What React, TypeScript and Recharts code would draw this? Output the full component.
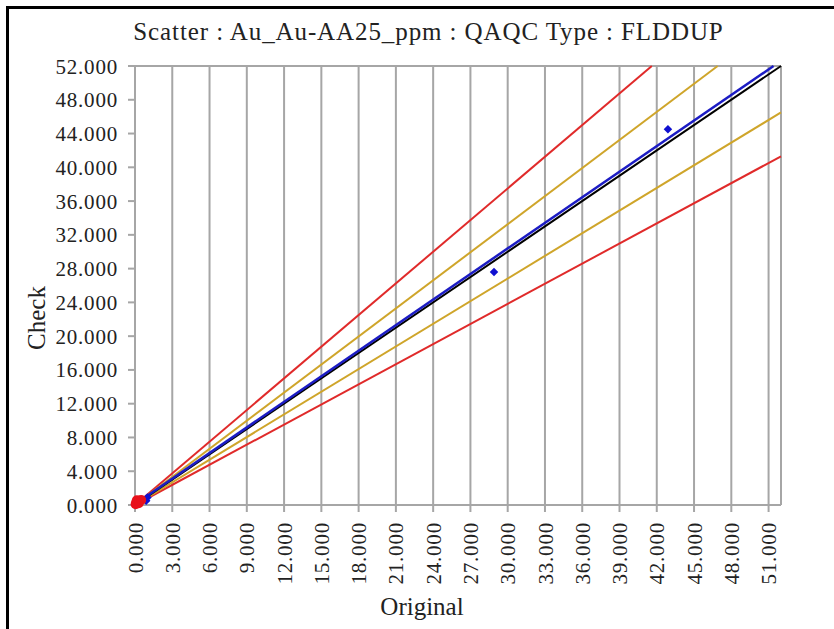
import React from 'react';
import {
  ScatterChart, Scatter, XAxis, YAxis, CartesianGrid, ReferenceLine,
} from 'recharts';

const X_TICKS = [0, 3, 6, 9, 12, 15, 18, 21, 24, 27, 30, 33, 36, 39, 42, 45, 48, 51];
const Y_TICKS = [0, 4, 8, 12, 16, 20, 24, 28, 32, 36, 40, 44, 48, 52];

// QAQC pairs (original vs check)
const originPoints = [
  { x: 0.05, y: 0.1 }, { x: 0.1, y: 0.25 }, { x: 0.2, y: 0.4 },
  { x: 0.3, y: 0.2 }, { x: 0.15, y: 0.55 }, { x: 0.35, y: 0.5 }, { x: 0.5, y: 0.6 },
];
const samplePoints = [
  { x: 0.9, y: 0.5 }, { x: 1.0, y: 0.9 }, { x: 28.9, y: 27.6 }, { x: 42.9, y: 44.5 },
];

// reference lines
const identityLine = [{ x: 0, y: 0 }, { x: 52, y: 52 }];
const regressionLine = [{ x: 0, y: 0.1 }, { x: 51.4, y: 52 }];
const upper10 = [{ x: 0, y: 0 }, { x: 46.9, y: 52 }];
const lower10 = [{ x: 0, y: 0 }, { x: 52, y: 46.5 }];
const upper20 = [{ x: 0, y: 0 }, { x: 41.6, y: 52 }];
const lower20 = [{ x: 0, y: 0 }, { x: 52, y: 41.3 }];

const FONT = "'Times New Roman', Times, 'Liberation Serif', 'DejaVu Serif', serif";
const GRID = '#a6a6a6';
const TXT = '#222';

const noShape = () => <g />;

const dot = (r: number, fill: string) => (p: any) => <circle cx={p.cx} cy={p.cy} r={r} fill={fill} />;
const square = (s: number, fill: string) => (p: any) => (
  <rect x={p.cx - s / 2} y={p.cy - s / 2} width={s} height={s} fill={fill}
    transform={`rotate(45 ${p.cx} ${p.cy})`} />
);

function XTick({ x, y, payload }: any) {
  return (
    <text
      x={x} y={y + 8} transform={`rotate(-90 ${x} ${y + 8})`} dy="0.36em"
      textAnchor="end" fontFamily={FONT} fontSize={21} fill={TXT} letterSpacing={0.8}
    >
      {Number(payload.value).toFixed(3)}
    </text>
  );
}

function YTick({ x, y, payload }: any) {
  return (
    <text
      x={x} y={y} dy="0.36em" textAnchor="end"
      fontFamily={FONT} fontSize={21} fill={TXT} letterSpacing={0.8}
    >
      {Number(payload.value).toFixed(3)}
    </text>
  );
}

const CheckLabel = () => (
  <text x={36} y={318} transform="rotate(-90 36 318)" textAnchor="middle" dy="0.36em"
    fontFamily={FONT} fontSize={25} fill={TXT}>
    Check
  </text>
);

const OriginalLabel = () => (
  <text x={422} y={615} textAnchor="middle" fontFamily={FONT} fontSize={25} fill={TXT}>
    Original
  </text>
);

export default function App() {
  return (
    <div style={{ position: 'absolute', left: 0, top: 0, width: 834, height: 629, background: '#fff' }}>
      <div style={{
        position: 'absolute', left: 6, top: 6, right: 0, bottom: 0,
        borderLeft: '3px solid #000', borderTop: '3px solid #000',
      }} />
      <div style={{
        position: 'absolute', left: 0, top: 18, width: 857, textAlign: 'center',
        fontFamily: FONT, fontSize: 25, color: TXT, letterSpacing: 0.9,
      }}>
        Scatter : Au_Au-AA25_ppm : QAQC Type : FLDDUP
      </div>
      <div style={{ position: 'absolute', left: 0, top: 0 }}>
        <ScatterChart width={834} height={629} margin={{ top: 66, right: 53, bottom: 34, left: 15 }}>
          <CartesianGrid horizontal={false} stroke={GRID} strokeWidth={2} />
          <XAxis
            type="number" dataKey="x" domain={[0, 52]} ticks={X_TICKS} interval={0}
            height={90} stroke={GRID} strokeWidth={2} tickSize={7} tick={<XTick />}
            label={<OriginalLabel />}
          />
          <YAxis
            type="number" dataKey="y" domain={[0, 52]} ticks={Y_TICKS} interval={0}
            width={120} stroke={GRID} strokeWidth={2} tickSize={7} tick={<YTick />}
            tickMargin={10} label={<CheckLabel />}
          />
          <ReferenceLine y={52} stroke={GRID} strokeWidth={2} />
          <ReferenceLine x={52} stroke={GRID} strokeWidth={2} />
          <Scatter data={lower20} line={{ stroke: '#e02a2a', strokeWidth: 2 }} shape={noShape} isAnimationActive={false} />
          <Scatter data={upper20} line={{ stroke: '#e02a2a', strokeWidth: 2 }} shape={noShape} isAnimationActive={false} />
          <Scatter data={lower10} line={{ stroke: '#cfa52a', strokeWidth: 2 }} shape={noShape} isAnimationActive={false} />
          <Scatter data={upper10} line={{ stroke: '#cfa52a', strokeWidth: 2 }} shape={noShape} isAnimationActive={false} />
          <Scatter data={identityLine} line={{ stroke: '#000', strokeWidth: 2 }} shape={noShape} isAnimationActive={false} />
          <Scatter data={regressionLine} line={{ stroke: '#1c1cc4', strokeWidth: 2.5 }} shape={noShape} isAnimationActive={false} />
          <Scatter data={samplePoints} shape={square(6, '#1010d0')} isAnimationActive={false} />
          <Scatter data={originPoints} shape={dot(5, '#e8101a')} isAnimationActive={false} />
        </ScatterChart>
      </div>
    </div>
  );
}
